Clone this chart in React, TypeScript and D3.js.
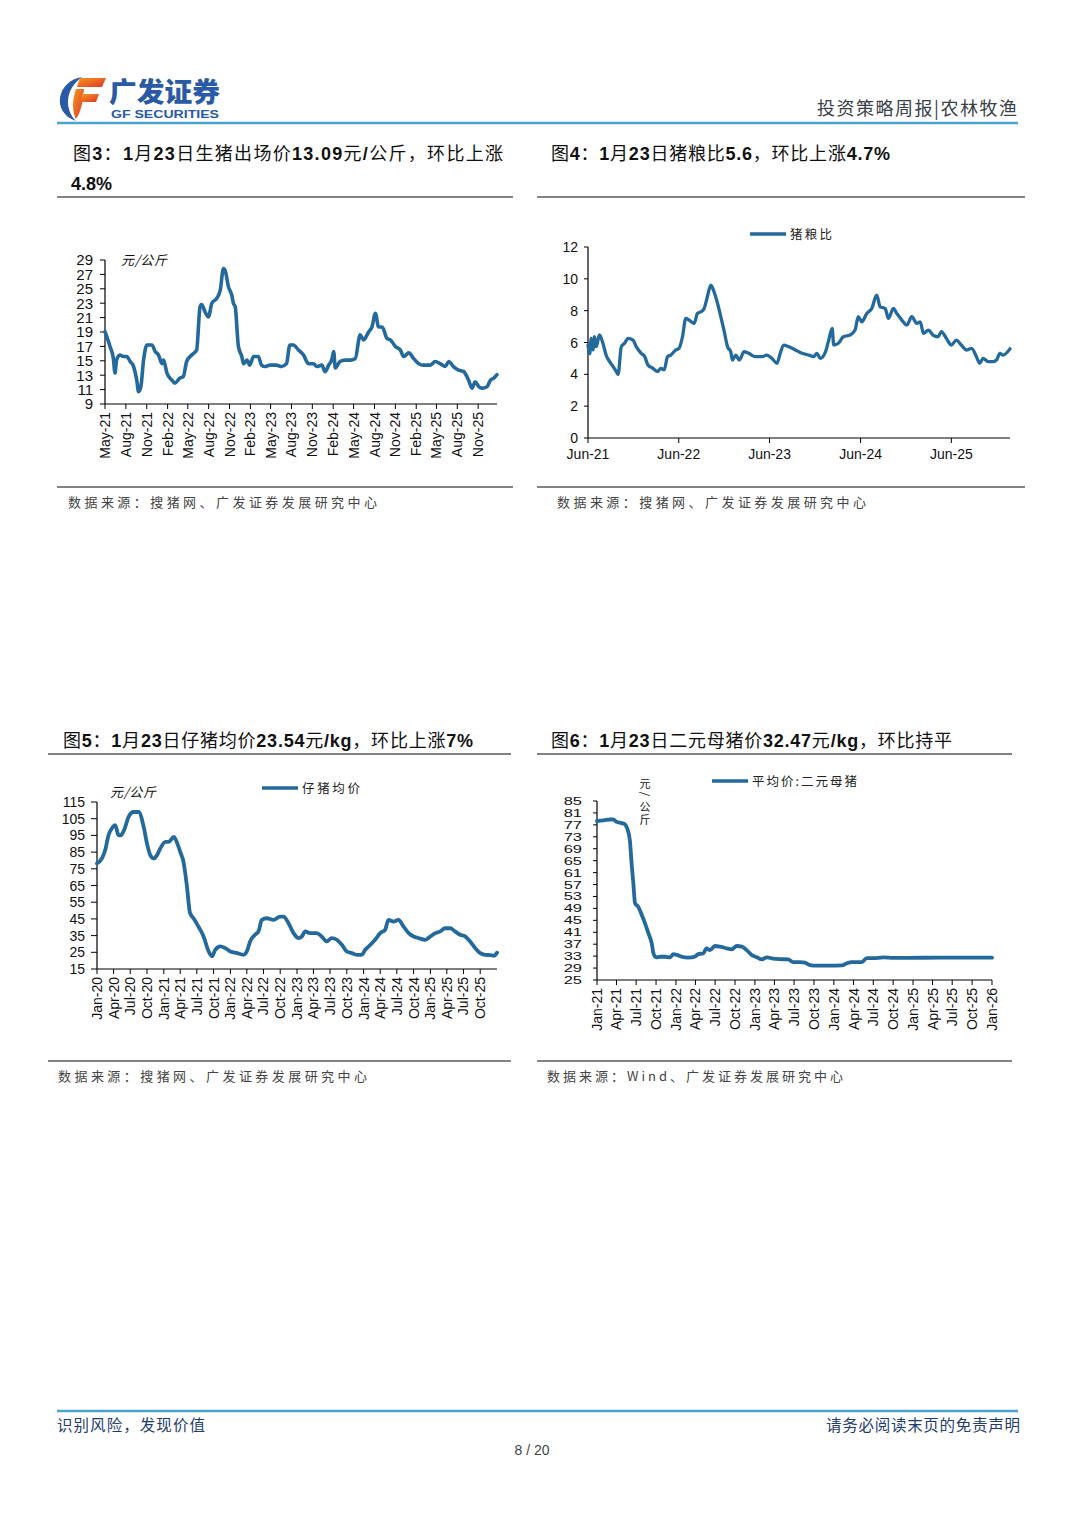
import React from "react";
import * as d3 from "d3";

const CN = "'Noto Sans CJK SC', 'Noto Sans', sans-serif";
const AR = "'Liberation Sans', Arial, Helvetica, sans-serif";
const LINE_COLOR = "#24699c";
const RULE_COLOR = "#595959";
const BRAND = "#2a5aa6";

// ---------- 图3 生猪出场价 (元/公斤) ----------
const hogPrice: [string, number][] = [
  ["2021-05-01", 19.05], ["2021-05-23", 17.0], ["2021-06-07", 15.3], ["2021-06-14", 13.3], ["2021-06-21", 15.1],
  ["2021-07-06", 15.8], ["2021-07-21", 15.6], ["2021-08-05", 15.6], ["2021-08-20", 14.9], ["2021-09-04", 14.2],
  ["2021-09-18", 12.3], ["2021-09-26", 10.7], ["2021-10-06", 11.4], ["2021-10-18", 15.1], ["2021-11-02", 17.2],
  ["2021-11-24", 17.2], ["2021-12-08", 16.3], ["2021-12-23", 15.8], ["2022-01-07", 14.6], ["2022-01-14", 15.1],
  ["2022-01-29", 13.3], ["2022-02-20", 12.3], ["2022-03-05", 11.9], ["2022-03-27", 12.6], ["2022-04-11", 12.8],
  ["2022-04-26", 14.9], ["2022-05-18", 15.8], ["2022-06-09", 16.5], ["2022-06-24", 22.5], ["2022-07-01", 22.8],
  ["2022-07-16", 21.8], ["2022-07-31", 21.1], ["2022-08-15", 23.0], ["2022-09-06", 23.7], ["2022-09-21", 24.8],
  ["2022-10-05", 27.8], ["2022-10-12", 27.6], ["2022-10-27", 25.3], ["2022-11-11", 24.1], ["2022-11-18", 23.0],
  ["2022-11-26", 22.5], ["2022-12-10", 17.0], ["2022-12-25", 15.6], ["2023-01-02", 14.6], ["2023-01-17", 15.1],
  ["2023-01-29", 14.4], ["2023-02-15", 15.6], ["2023-03-08", 15.6], ["2023-03-22", 14.4], ["2023-04-06", 14.2],
  ["2023-04-28", 14.4], ["2023-05-27", 14.4], ["2023-06-18", 14.2], ["2023-07-10", 14.6], ["2023-07-25", 17.2],
  ["2023-08-09", 17.2], ["2023-09-01", 16.5], ["2023-09-23", 15.8], ["2023-10-15", 14.6], ["2023-11-06", 14.6],
  ["2023-11-21", 14.2], ["2023-12-13", 14.4], ["2023-12-27", 13.5], ["2024-01-12", 14.4], ["2024-01-27", 15.3],
  ["2024-02-03", 16.3], ["2024-02-10", 14.0], ["2024-03-02", 14.9], ["2024-03-24", 15.1], ["2024-04-16", 15.1],
  ["2024-05-08", 15.3], ["2024-05-30", 18.6], ["2024-06-14", 17.9], ["2024-07-06", 19.0], ["2024-07-21", 19.7],
  ["2024-08-05", 21.6], ["2024-08-19", 19.7], ["2024-09-04", 19.7], ["2024-09-25", 18.1], ["2024-10-10", 17.9],
  ["2024-11-01", 17.0], ["2024-11-23", 16.5], ["2024-12-08", 15.6], ["2024-12-30", 16.1], ["2025-01-21", 15.3],
  ["2025-02-12", 14.6], ["2025-03-05", 14.4], ["2025-04-04", 14.4], ["2025-04-26", 14.9], ["2025-05-18", 14.6],
  ["2025-06-09", 14.2], ["2025-06-24", 14.9], ["2025-07-15", 14.2], ["2025-08-07", 13.7], ["2025-08-29", 13.5],
  ["2025-09-20", 12.3], ["2025-10-05", 11.2], ["2025-10-19", 12.1], ["2025-11-04", 11.4], ["2025-11-18", 11.2],
  ["2025-12-10", 11.4], ["2025-12-25", 12.3], ["2026-01-09", 12.6], ["2026-01-23", 13.09],
];
const hogXDomain: [string, string] = ["2021-05-01", "2026-01-23"];
const hogXTicks = ["May-21", "Aug-21", "Nov-21", "Feb-22", "May-22", "Aug-22", "Nov-22", "Feb-23", "May-23", "Aug-23",
  "Nov-23", "Feb-24", "May-24", "Aug-24", "Nov-24", "Feb-25", "May-25", "Aug-25", "Nov-25"];
const hogYTicks = [9, 11, 13, 15, 17, 19, 21, 23, 25, 27, 29];

// ---------- 图4 猪粮比 ----------
const hogGrainRatio: [string, number][] = [
  ["2021-06-01", 5.84], ["2021-06-08", 5.3], ["2021-06-14", 6.26], ["2021-06-21", 5.53], ["2021-06-27", 6.36],
  ["2021-07-04", 5.74], ["2021-07-17", 6.47], ["2021-07-31", 5.95], ["2021-08-13", 5.2], ["2021-08-27", 4.8],
  ["2021-09-10", 4.48], ["2021-09-23", 4.17], ["2021-09-30", 4.0], ["2021-10-13", 5.74], ["2021-10-26", 5.95],
  ["2021-11-09", 6.26], ["2021-11-29", 6.15], ["2021-12-12", 5.74], ["2022-01-01", 5.32], ["2022-01-15", 5.11],
  ["2022-01-28", 4.59], ["2022-02-17", 4.38], ["2022-03-07", 4.17], ["2022-03-21", 4.38], ["2022-04-03", 4.28],
  ["2022-04-17", 5.11], ["2022-04-30", 5.21], ["2022-05-20", 5.53], ["2022-06-02", 5.63], ["2022-06-16", 6.36],
  ["2022-06-29", 7.51], ["2022-07-12", 7.41], ["2022-08-02", 7.2], ["2022-08-15", 7.82], ["2022-08-29", 7.93],
  ["2022-09-11", 8.14], ["2022-09-24", 8.87], ["2022-10-08", 9.6], ["2022-10-21", 9.18], ["2022-11-04", 8.45],
  ["2022-11-17", 7.62], ["2022-12-01", 6.68], ["2022-12-14", 5.74], ["2022-12-27", 5.42], ["2023-01-03", 4.9],
  ["2023-01-16", 5.21], ["2023-01-30", 4.9], ["2023-02-19", 5.42], ["2023-03-09", 5.32], ["2023-04-05", 5.11],
  ["2023-05-02", 5.11], ["2023-05-21", 5.21], ["2023-06-11", 5.0], ["2023-07-01", 4.69], ["2023-07-14", 5.32],
  ["2023-07-28", 5.84], ["2023-08-17", 5.74], ["2023-09-13", 5.53], ["2023-10-10", 5.32], ["2023-11-06", 5.21],
  ["2023-11-25", 5.11], ["2023-12-09", 5.32], ["2023-12-22", 5.0], ["2024-01-12", 5.42], ["2024-01-25", 6.15],
  ["2024-02-08", 6.89], ["2024-02-14", 5.84], ["2024-03-04", 5.95], ["2024-03-24", 6.36], ["2024-04-20", 6.47],
  ["2024-05-10", 6.78], ["2024-05-23", 7.62], ["2024-06-06", 7.3], ["2024-06-26", 7.82], ["2024-07-16", 8.14],
  ["2024-08-05", 8.97], ["2024-08-19", 8.24], ["2024-09-08", 8.14], ["2024-09-21", 7.51], ["2024-10-11", 8.14],
  ["2024-10-25", 7.82], ["2024-11-14", 7.41], ["2024-12-04", 7.1], ["2024-12-24", 7.62], ["2025-01-13", 7.2],
  ["2025-01-27", 7.3], ["2025-02-09", 6.57], ["2025-03-01", 6.78], ["2025-03-19", 6.47], ["2025-04-09", 6.36],
  ["2025-04-22", 6.68], ["2025-05-12", 6.26], ["2025-06-01", 5.84], ["2025-06-21", 6.15], ["2025-07-11", 5.84],
  ["2025-08-01", 5.53], ["2025-08-21", 5.63], ["2025-09-10", 5.11], ["2025-09-23", 4.69], ["2025-10-07", 5.0],
  ["2025-10-27", 4.8], ["2025-11-16", 4.8], ["2025-11-30", 4.9], ["2025-12-13", 5.32], ["2025-12-26", 5.21],
  ["2026-01-23", 5.6],
];
const ratioXDomain: [string, string] = ["2021-06-01", "2026-01-23"];
const ratioXTicks = ["Jun-21", "Jun-22", "Jun-23", "Jun-24", "Jun-25"];
const ratioYTicks = [0, 2, 4, 6, 8, 10, 12];

// ---------- 图5 仔猪均价 ----------
const pigletPrice: [string, number][] = [
  ["2020-01-01", 78.2], ["2020-01-28", 81.2], ["2020-02-15", 86.2], ["2020-03-04", 95.1], ["2020-03-22", 99.1],
  ["2020-04-10", 101.1], ["2020-04-28", 95.1], ["2020-05-10", 95.1], ["2020-05-28", 98.1], ["2020-06-22", 106.1],
  ["2020-07-19", 109.0], ["2020-08-16", 109.0], ["2020-09-13", 100.1], ["2020-10-01", 90.1], ["2020-10-19", 83.2],
  ["2020-11-07", 81.2], ["2020-11-25", 83.2], ["2020-12-13", 87.2], ["2021-01-10", 91.1], ["2021-01-28", 91.1],
  ["2021-02-25", 94.1], ["2021-03-13", 91.1], ["2021-04-01", 85.2], ["2021-04-19", 79.2], ["2021-05-07", 65.3],
  ["2021-05-25", 48.4], ["2021-06-13", 45.4], ["2021-07-10", 40.4], ["2021-08-07", 34.5], ["2021-09-04", 25.5],
  ["2021-09-22", 22.6], ["2021-10-10", 26.5], ["2021-11-07", 28.5], ["2021-12-04", 27.5], ["2022-01-01", 25.5],
  ["2022-02-07", 24.5], ["2022-03-13", 23.5], ["2022-04-01", 25.5], ["2022-04-19", 31.5], ["2022-05-16", 35.5],
  ["2022-06-04", 37.5], ["2022-06-22", 44.4], ["2022-07-19", 45.4], ["2022-08-25", 44.4], ["2022-10-01", 46.4],
  ["2022-10-19", 46.4], ["2022-11-16", 42.4], ["2022-12-13", 36.5], ["2023-01-10", 33.5], ["2023-01-28", 34.5],
  ["2023-02-15", 37.5], ["2023-03-13", 36.5], ["2023-04-19", 36.5], ["2023-05-16", 34.5], ["2023-06-13", 31.5],
  ["2023-07-10", 33.5], ["2023-08-07", 32.5], ["2023-09-04", 29.5], ["2023-10-01", 25.5], ["2023-10-28", 24.5],
  ["2023-11-25", 23.5], ["2023-12-22", 23.5], ["2024-01-10", 26.5], ["2024-02-07", 29.5], ["2024-03-04", 32.5],
  ["2024-04-01", 36.5], ["2024-04-28", 38.5], ["2024-05-16", 44.4], ["2024-06-13", 43.4], ["2024-07-10", 44.4],
  ["2024-08-07", 40.4], ["2024-09-04", 36.5], ["2024-10-01", 34.5], ["2024-10-28", 33.5], ["2024-12-04", 32.5],
  ["2025-01-01", 34.5], ["2025-01-28", 36.5], ["2025-02-25", 37.5], ["2025-03-22", 39.4], ["2025-04-19", 39.4],
  ["2025-05-16", 37.5], ["2025-06-13", 35.5], ["2025-07-10", 34.5], ["2025-08-07", 31.5], ["2025-09-04", 27.5],
  ["2025-10-01", 24.5], ["2025-10-28", 23.5], ["2025-11-25", 23.3], ["2025-12-16", 23.0], ["2026-01-01", 24.8],
];
const pigletXDomain: [string, string] = ["2020-01-01", "2026-01-01"];
const pigletXTicks = ["Jan-20", "Apr-20", "Jul-20", "Oct-20", "Jan-21", "Apr-21", "Jul-21", "Oct-21", "Jan-22", "Apr-22",
  "Jul-22", "Oct-22", "Jan-23", "Apr-23", "Jul-23", "Oct-23", "Jan-24", "Apr-24", "Jul-24", "Oct-24", "Jan-25", "Apr-25",
  "Jul-25", "Oct-25"];
const pigletYTicks = [15, 25, 35, 45, 55, 65, 75, 85, 95, 105, 115];

// ---------- 图6 二元母猪均价 ----------
const sowPrice: [string, number][] = [
  ["2021-01-01", 78.3], ["2021-02-01", 78.5], ["2021-03-02", 78.8], ["2021-03-17", 78.8], ["2021-04-02", 78.0],
  ["2021-04-25", 77.6], ["2021-05-10", 77.2], ["2021-05-21", 75.7], ["2021-06-02", 71.8], ["2021-06-10", 64.0],
  ["2021-06-18", 57.4], ["2021-06-26", 50.7], ["2021-07-11", 49.5], ["2021-07-27", 46.8], ["2021-08-11", 44.0],
  ["2021-08-27", 40.6], ["2021-09-11", 37.3], ["2021-09-19", 33.9], ["2021-10-01", 32.6], ["2021-10-20", 32.8],
  ["2021-11-12", 32.8], ["2021-12-05", 32.6], ["2021-12-20", 33.7], ["2022-01-05", 33.4], ["2022-01-28", 32.8],
  ["2022-02-28", 32.5], ["2022-03-29", 32.8], ["2022-04-14", 33.7], ["2022-05-07", 33.9], ["2022-05-22", 35.6],
  ["2022-06-07", 35.0], ["2022-06-30", 36.4], ["2022-07-23", 36.2], ["2022-08-23", 35.6], ["2022-09-16", 35.3],
  ["2022-10-09", 36.4], ["2022-11-02", 36.2], ["2022-11-24", 35.0], ["2022-12-17", 33.4], ["2023-01-10", 32.6],
  ["2023-02-02", 31.9], ["2023-02-25", 32.6], ["2023-03-26", 32.2], ["2023-04-26", 32.0], ["2023-06-04", 31.9],
  ["2023-06-27", 31.0], ["2023-07-28", 31.0], ["2023-08-20", 30.8], ["2023-09-13", 30.0], ["2023-10-13", 29.8],
  ["2023-12-14", 29.8], ["2024-02-07", 29.9], ["2024-03-01", 30.6], ["2024-03-23", 31.0], ["2024-05-08", 31.0],
  ["2024-06-01", 32.3], ["2024-07-01", 32.3], ["2024-08-17", 32.6], ["2024-10-02", 32.4], ["2024-12-03", 32.4],
  ["2025-05-05", 32.5], ["2025-10-07", 32.5], ["2026-01-01", 32.47],
];
const sowXDomain: [string, string] = ["2021-01-01", "2026-01-01"];
const sowXTicks = ["Jan-21", "Apr-21", "Jul-21", "Oct-21", "Jan-22", "Apr-22", "Jul-22", "Oct-22", "Jan-23", "Apr-23",
  "Jul-23", "Oct-23", "Jan-24", "Apr-24", "Jul-24", "Oct-24", "Jan-25", "Apr-25", "Jul-25", "Oct-25", "Jan-26"];
const sowYTicks = [25, 29, 33, 37, 41, 45, 49, 53, 57, 61, 65, 69, 73, 77, 81, 85];

// ---------- texts ----------
const titles = [
  "图3：1月23日生猪出场价13.09元/公斤，环比上涨",
  "4.8%",
  "图4：1月23日猪粮比5.6，环比上涨4.7%",
  "图5：1月23日仔猪均价23.54元/kg，环比上涨7%",
  "图6：1月23日二元母猪价32.47元/kg，环比持平",
];
const sources = [
  "数据来源：搜猪网、广发证券发展研究中心",
  "数据来源：Wind、广发证券发展研究中心",
];
const legendNames = ["猪粮比", "仔猪均价", "平均价:二元母猪"];
const unitLabel = "元/公斤";

const parseDate = d3.timeParse("%Y-%m-%d");
const parseTick = d3.timeParse("%b-%y");

type Box = { l: number; r: number; t: number; b: number };

function LineChart(props: {
  data: [string, number][];
  xDomain: [string, string];
  xTicks: string[];
  yTicks: number[];
  box: Box;
  rotate: boolean;
  yFont?: number;
  yGap?: number;
  yScaleX?: number;
  tickLen?: number;
  strokeWidth?: number;
}) {
  const { data, xDomain, xTicks, yTicks, box, rotate } = props;
  const yFont = props.yFont ?? 14;
  const yGap = props.yGap ?? 7;
  const sx = props.yScaleX ?? 1;
  const tl = props.tickLen ?? 5;
  const x = d3.scaleTime().domain(xDomain.map((s) => parseDate(s) as Date)).range([box.l, box.r]);
  const y = d3.scaleLinear().domain([yTicks[0], yTicks[yTicks.length - 1]]).range([box.b, box.t]);
  const line = d3
    .line<[string, number]>()
    .x((d) => x(parseDate(d[0]) as Date))
    .y((d) => y(d[1]))
    .curve(d3.curveMonotoneX);
  return (
    <g>
      <line x1={box.l} x2={box.l} y1={box.t} y2={box.b} stroke="#000" strokeWidth={1.2} />
      <line x1={box.l} x2={box.r} y1={box.b} y2={box.b} stroke="#000" strokeWidth={1.2} />
      {yTicks.map((v) => (
        <g key={v}>
          <line x1={box.l - tl} x2={box.l} y1={y(v)} y2={y(v)} stroke="#000" />
          <g transform={`translate(${box.l - yGap},${y(v)}) scale(${sx},1)`}>
            <text x={0} y={0} dy="0.36em" textAnchor="end" fontFamily={AR} fontSize={yFont} fill="#111">
              {v}
            </text>
          </g>
        </g>
      ))}
      {xTicks.map((t) => {
        const px = x(parseTick(t) as Date);
        return (
          <g key={t}>
            <line x1={px} x2={px} y1={box.b} y2={box.b + 5} stroke="#000" />
            {rotate ? (
              <text
                transform={`translate(${px + 5},${box.b + 8}) rotate(-90)`}
                textAnchor="end"
                fontFamily={AR}
                fontSize={14}
                fill="#111"
              >
                {t}
              </text>
            ) : (
              <text x={px} y={box.b + 21} textAnchor="middle" fontFamily={AR} fontSize={14} fill="#111">
                {t}
              </text>
            )}
          </g>
        );
      })}
      <path
        d={line(data) ?? ""}
        fill="none"
        stroke={LINE_COLOR}
        strokeWidth={props.strokeWidth ?? 3}
        strokeLinejoin="round"
        strokeLinecap="round"
      />
    </g>
  );
}

function RichTitle({ x, y, text, width }: { x: number; y: number; text: string; width?: number }) {
  const parts = text.match(/[\x00-\x7F]+|[^\x00-\x7F]+/g) || [];
  return (
    <text x={x} y={y} fontSize={18} fill="#111" textLength={width} lengthAdjust="spacing">
      {parts.map((p, i) =>
        /^[\x00-\x7F]+$/.test(p) ? (
          <tspan key={i} fontFamily={AR} fontWeight="bold">
            {p}
          </tspan>
        ) : (
          <tspan key={i} fontFamily={CN} fontWeight={400}>
            {p}
          </tspan>
        )
      )}
    </text>
  );
}

function Legend({ x, y, label, width }: { x: number; y: number; label: string; width: number }) {
  return (
    <g>
      <line x1={x} x2={x + 36} y1={y} y2={y} stroke={LINE_COLOR} strokeWidth={3.5} />
      <text x={x + 40} y={y + 4.5} fontFamily={CN} fontSize={12.5} fill="#222" textLength={width} lengthAdjust="spacing">
        {label}
      </text>
    </g>
  );
}

function Rule({ x1, x2, y }: { x1: number; x2: number; y: number }) {
  return <line x1={x1} x2={x2} y1={y} y2={y} stroke={RULE_COLOR} strokeWidth={1.3} />;
}

function SourceText({ x, y, text, width }: { x: number; y: number; text: string; width: number }) {
  return (
    <text x={x} y={y} fontFamily={CN} fontSize={13} fill="#444" textLength={width} lengthAdjust="spacing">
      {text}
    </text>
  );
}

export default function App() {
  return (
    <svg
      width={1080}
      height={1527}
      style={{ position: "absolute", left: 0, top: 0, background: "#fff" }}
      xmlns="http://www.w3.org/2000/svg"
    >
      <rect x={0} y={0} width={1080} height={1527} fill="#fff" />
      {/* header logo */}
      <defs>
        <linearGradient id="fgrad" x1="0" y1="0" x2="1" y2="1">
          <stop offset="0" stopColor="#f29a1f" />
          <stop offset="1" stopColor="#e2322a" />
        </linearGradient>
      </defs>
      <path d="M 82 77 C 58 80, 50 112, 76 121 C 65 110, 64 90, 82 77 Z" fill={BRAND} />
      <polygon points="80,78 106,78 102,87 77,87" fill="url(#fgrad)" />
      <path d="M 76 89 L 84 89 L 82 104 C 80 112, 78 116, 76 119 C 72 112, 72 100, 76 89 Z" fill="url(#fgrad)" />
      <polygon points="82,94 99,94 96,102 81,102" fill="url(#fgrad)" />
      <text x={109} y={102} fontFamily={CN} fontWeight={900} fontSize={27} fill={BRAND} textLength={111} lengthAdjust="spacingAndGlyphs">
        广发证券
      </text>
      <text x={111} y={118} fontFamily={AR} fontWeight="bold" fontSize={11} fill={BRAND} textLength={108} lengthAdjust="spacingAndGlyphs">
        GF SECURITIES
      </text>
      <text x={817} y={115} fontFamily={CN} fontSize={18} fill="#3a3f4a" textLength={200} lengthAdjust="spacing">
        投资策略周报|农林牧渔
      </text>
      <line x1={57} x2={1018} y1={123} y2={123} stroke="#4aa3cf" strokeWidth={2.5} />

      {/* titles row 1 */}
      <RichTitle x={73} y={160} text={titles[0]} width={430} />
      <RichTitle x={71} y={190} text={titles[1]} />
      <RichTitle x={551} y={160} text={titles[2]} width={339} />
      <Rule x1={57} x2={513} y={197} />
      <Rule x1={537} x2={1025} y={197} />

      {/* chart 3 */}
      <text x={121} y={265} fontFamily={CN} fontSize={13} fontStyle="italic" fill="#111" textLength={46} lengthAdjust="spacing">
        {unitLabel}
      </text>
      <LineChart
        data={hogPrice}
        xDomain={hogXDomain}
        xTicks={hogXTicks}
        yTicks={hogYTicks}
        box={{ l: 105, r: 497, t: 260, b: 404 }}
        rotate={true}
        yFont={15}
        yGap={12}
        strokeWidth={3.6}
      />

      {/* chart 4 */}
      <Legend x={750} y={234} label={legendNames[0]} width={42} />
      <LineChart
        data={hogGrainRatio}
        xDomain={ratioXDomain}
        xTicks={ratioXTicks}
        yTicks={ratioYTicks}
        box={{ l: 588, r: 1010, t: 247, b: 438 }}
        rotate={false}
        yGap={10}
        tickLen={4}
        strokeWidth={3.3}
      />

      <Rule x1={57} x2={513} y={487} />
      <Rule x1={537} x2={1025} y={487} />
      <SourceText x={68} y={507} text={sources[0]} width={309} />
      <SourceText x={557} y={507} text={sources[0]} width={309} />

      {/* titles row 2 */}
      <RichTitle x={63} y={747} text={titles[3]} width={410} />
      <RichTitle x={551} y={747} text={titles[4]} width={401} />
      <Rule x1={48} x2={511} y={754} />
      <Rule x1={537} x2={1012} y={754} />

      {/* chart 5 */}
      <text x={110} y={797} fontFamily={CN} fontSize={13} fontStyle="italic" fill="#111" textLength={46} lengthAdjust="spacing">
        {unitLabel}
      </text>
      <Legend x={262} y={788} label={legendNames[1]} width={58} />
      <LineChart
        data={pigletPrice}
        xDomain={pigletXDomain}
        xTicks={pigletXTicks}
        yTicks={pigletYTicks}
        box={{ l: 97, r: 497, t: 802, b: 969 }}
        rotate={true}
        yGap={12}
        tickLen={6}
        strokeWidth={3.8}
      />

      {/* chart 6 */}
      <Legend x={712} y={781} label={legendNames[2]} width={105} />
      <g fontFamily={CN} fontSize={11} fill="#111" textAnchor="middle">
        <text x={645} y={788}>{unitLabel[0]}</text>
        <text transform="translate(645,794) rotate(90)" dy="0.35em">{unitLabel[1]}</text>
        <text x={645} y={811}>{unitLabel[2]}</text>
        <text x={645} y={824}>{unitLabel[3]}</text>
      </g>
      <LineChart
        data={sowPrice}
        xDomain={sowXDomain}
        xTicks={sowXTicks}
        yTicks={sowYTicks}
        box={{ l: 597, r: 992, t: 801, b: 980 }}
        rotate={true}
        yFont={11}
        yScaleX={1.5}
        yGap={15}
        tickLen={4}
        strokeWidth={3.8}
      />

      <Rule x1={48} x2={511} y={1061} />
      <Rule x1={537} x2={1012} y={1061} />
      <SourceText x={58} y={1081} text={sources[0]} width={309} />
      <SourceText x={547} y={1081} text={sources[1]} width={296} />

      {/* footer */}
      <line x1={57} x2={1018} y1={1411} y2={1411} stroke="#4aa3cf" strokeWidth={2.5} />
      <text x={57} y={1431} fontFamily={CN} fontSize={15.5} fill="#1f3c6e" textLength={148} lengthAdjust="spacing">
        识别风险，发现价值
      </text>
      <text x={826} y={1431} fontFamily={CN} fontSize={15.5} fill="#1f3c6e" textLength={194} lengthAdjust="spacing">
        请务必阅读末页的免责声明
      </text>
      <text x={532} y={1455} textAnchor="middle" fontFamily={AR} fontSize={14} fill="#444">
        8 / 20
      </text>
    </svg>
  );
}
